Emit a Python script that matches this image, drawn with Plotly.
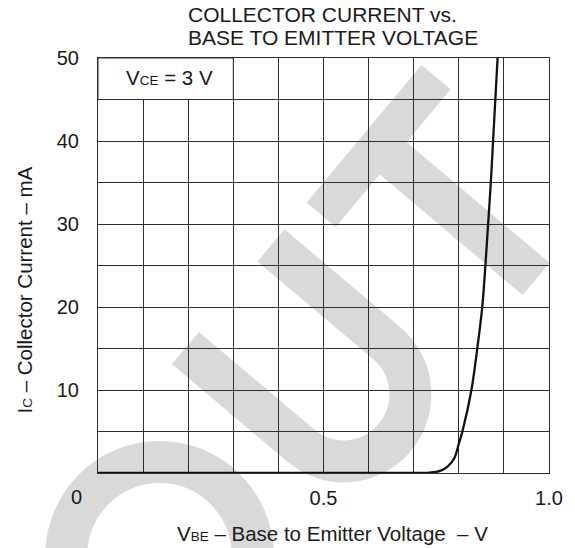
import math
import plotly.graph_objects as go

# ---- data ----
vbe = [0.0, 0.70, 0.735, 0.76, 0.775, 0.79, 0.80, 0.808, 0.828, 0.841,
       0.852, 0.859, 0.865, 0.871, 0.876, 0.881, 0.886]
ic = [0.0, 0.0, 0.03, 0.28, 0.76, 1.77, 3.5, 5.0, 10, 15,
      20, 25, 30, 35, 40, 45, 50]
x_tick_vals = [0.5, 1.0]
x_tick_text = ["0.5", "1.0"]
y_tick_vals = [10, 20, 30, 40, 50]
y_tick_text = ["10", "20", "30", "40", "50"]

SUB = '<span style="font-size:13.5px">{}</span>'
title_lines = ["COLLECTOR CURRENT vs.", "BASE TO EMITTER VOLTAGE"]
x_title = "V" + SUB.format("BE") + " – Base to Emitter Voltage&nbsp; – V"
y_title = "I" + SUB.format("C") + " – Collector Current – mA"
cond_text = "V" + SUB.format("CE") + " = 3 V"

# ---- figure geometry (page pixels; body margin removed below) ----
W, H = 575, 548
PL, PT, PR, PB = 98, 58, 552, 473          # plot box on the page
L, T, R, B = PL, PT, W - PR, H - PB
PW, PH = PR - PL, PB - PT
FONT = "Liberation Sans, Arial, Helvetica, sans-serif"
TXT = "#1a1a1a"
GRID = "#2e2e2e"
WM = "#d9d9d9"


def px(x, y):
    """page pixel -> paper coordinates"""
    return (x - PL) / PW, (PB - y) / PH


fig = go.Figure()
fig.add_trace(go.Scatter(x=vbe, y=ic, mode="lines",
                         line=dict(color="#111111", width=2.3, shape="spline", smoothing=0.8),
                         hoverinfo="skip", showlegend=False, cliponaxis=True))

# ---- watermark "OUT" (light grey, behind grid) ----
ang = math.radians(40)
d = (math.cos(ang), math.sin(ang))      # letter "down"
r = (math.sin(ang), -math.cos(ang))     # letter "right"
SW = 42
shapes = []


def P(p):
    a, b = px(*p)
    return f"{a:.5f},{b:.5f}"


def add(p, v, s):
    return (p[0] + v[0] * s, p[1] + v[1] * s)


# O
oc, orad = (160, 556), 94
x0, y0 = px(oc[0] - orad, oc[1] + orad)
x1, y1 = px(oc[0] + orad, oc[1] - orad)
shapes.append(dict(type="circle", xref="paper", yref="paper", x0=x0, y0=y0, x1=x1, y1=y1,
                   line=dict(color=WM, width=SW), layer="below"))
# U
M = (229, 296.7)
half, arm = 67, 152
C = add(M, d, arm)
lt, rt = add(M, r, -half), add(M, r, half)
lb, rb = add(C, r, -half), add(C, r, half)
bot = add(C, d, half)
k = 0.5523 * half
path = (f"M{P(lt)} L{P(lb)} C{P(add(lb, d, k))} {P(add(bot, r, -k))} {P(bot)} "
        f"C{P(add(bot, r, k))} {P(add(rb, d, k))} {P(rb)} L{P(rt)}")
shapes.append(dict(type="path", xref="paper", yref="paper", path=path,
                   line=dict(color=WM, width=SW), layer="below"))
# T
Bc = (380.5, 146)
b1, b2 = add(Bc, r, -90), add(Bc, r, 90)
shapes.append(dict(type="path", xref="paper", yref="paper", path=f"M{P(b1)} L{P(b2)}",
                   line=dict(color=WM, width=38), layer="below"))
s2 = add(Bc, d, 207)
shapes.append(dict(type="path", xref="paper", yref="paper", path=f"M{P(Bc)} L{P(s2)}",
                   line=dict(color=WM, width=SW), layer="below"))

# condition box (covers grid in the top-left cells)
shapes.append(dict(type="rect", xref="x", yref="y", x0=0, x1=0.3, y0=45, y1=50,
                   fillcolor="white", line=dict(color=GRID, width=1), layer="above"))

annotations = []
tx = px(187, 0)[0]
for t, yc in zip(title_lines, [14, 37]):
    annotations.append(dict(text=t, xref="paper", yref="paper", x=tx, y=px(0, yc)[1],
                            xanchor="left", yanchor="middle", showarrow=False,
                            font=dict(family=FONT, size=21, color=TXT)))
annotations.append(dict(text=cond_text, xref="x", yref="y", x=0.158, y=47.6,
                        xanchor="center", yanchor="middle", showarrow=False,
                        font=dict(family=FONT, size=20.5, color=TXT)))
ox, oy = px(76, 497)
annotations.append(dict(text="0", xref="paper", yref="paper", x=ox, y=oy,
                        xanchor="center", yanchor="middle", showarrow=False,
                        font=dict(family=FONT, size=20, color=TXT)))
xx, xy = px(334, 533)
annotations.append(dict(text=x_title, xref="paper", yref="paper", x=xx, y=xy,
                        xanchor="center", yanchor="middle", showarrow=False,
                        font=dict(family=FONT, size=20.5, color=TXT)))
yx, yy = px(24, 290)
annotations.append(dict(text=y_title, xref="paper", yref="paper", x=yx, y=yy,
                        xanchor="center", yanchor="middle", showarrow=False, textangle=-90,
                        font=dict(family=FONT, size=20.5, color=TXT)))

axis_common = dict(showgrid=True, gridcolor=GRID, gridwidth=1, zeroline=False,
                   showline=True, mirror=True, linecolor=GRID, linewidth=1.2,
                   ticks="", tickfont=dict(family=FONT, size=20, color=TXT), fixedrange=True)

fig.update_layout(
    width=W, height=H, autosize=False,
    margin=dict(l=L, r=R, t=T, b=B, pad=0),
    paper_bgcolor="white", plot_bgcolor="white",
    xaxis=dict(range=[0, 1], tickvals=x_tick_vals, ticktext=x_tick_text,
               minor=dict(dtick=0.1, tick0=0, showgrid=True, gridcolor=GRID, gridwidth=1),
               ticklabelstandoff=7, **axis_common),
    yaxis=dict(range=[0, 50], tickvals=y_tick_vals, ticktext=y_tick_text,
               minor=dict(dtick=5, tick0=0, showgrid=True, gridcolor=GRID, gridwidth=1),
               ticklabelstandoff=14, **axis_common),
    shapes=shapes, annotations=annotations, showlegend=False,
)

fig.write_html("out.html", config={"displayModeBar": False},
               post_script="document.body.style.margin='0';document.body.style.overflow='hidden';")
